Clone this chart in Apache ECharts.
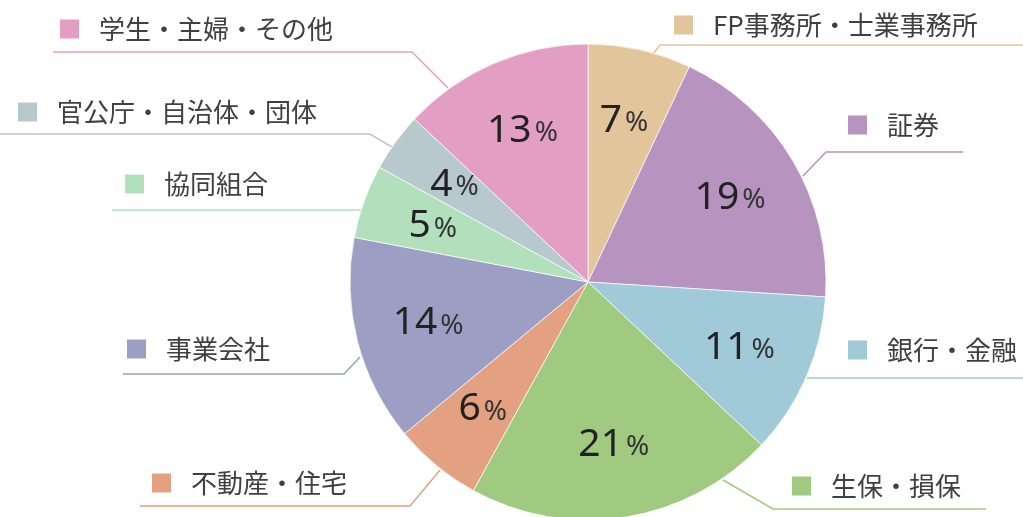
<!DOCTYPE html>
<html>
<head>
<meta charset="utf-8">
<style>
html,body{margin:0;padding:0;background:#fff;}
#main{width:1023px;height:517px;}
</style>
<script src="https://cdn.jsdelivr.net/npm/echarts@6/dist/echarts.min.js"></script>
</head>
<body>
<div id="main"></div>
<script>
// data
var names = ['FP事務所・士業事務所','証券','銀行・金融','生保・損保','不動産・住宅','事業会社','協同組合','官公庁・自治体・団体','学生・主婦・その他'];
var values = [7,19,11,21,6,14,5,4,13];
var colors = ['#e2c59b','#b793bf','#a0cad8','#9fca80','#e4a182','#9c9fc3','#b2e0bd','#b7c9cd','#e39ec4'];

// label positions: [square left x, center y], and leader line points
var labelPos = [[674,25],[848,125],[848,350],[792,486],[152,483],[127,349],[125,184],[18,112],[60,29]];
var linePts = [
  [[653,54],[660,45],[1023,45]],
  [[803,176],[826,152],[963,152]],
  [[807,378],[820,378],[1023,378]],
  [[723,480],[773,509],[986,509]],
  [[440,470],[410,506],[140,506]],
  [[360,357],[344,374],[123,374]],
  [[363,210],[362,210],[112,210]],
  [[392,147],[370,134],[0,134]],
  [[448,88],[412,52],[53,52]]
];

var pieData = [];
var rich = {t:{fontSize:26,color:'#404040',fontFamily:'Noto Sans CJK JP',padding:[0,0,0,20]}};
for(var i=0;i<names.length;i++){
  pieData.push({name:names[i],value:values[i],itemStyle:{color:colors[i]},labelLine:{lineStyle:{color:colors[i]}}});
  rich['sq'+i]={width:19,height:19,backgroundColor:colors[i]};
}

var myChart = echarts.init(document.getElementById('main'));
var option = {
  animation:false,
  series:[
    {
      type:'pie',
      center:[588,282],
      radius:238,
      startAngle:90,
      clockwise:true,
      z:1,
      silent:true,
      itemStyle:{borderColor:'rgba(255,255,255,0.7)',borderWidth:1},
      label:{
        show:true,
        position:'outside',
        formatter:function(p){ return '{sq'+p.dataIndex+'| }{t|'+p.name+'}'; },
        rich:rich
      },
      labelLine:{show:true,length:10,length2:10,lineStyle:{width:1.5}},
      labelLayout:function(p){
        var i=p.dataIndex;
        return {x:labelPos[i][0],y:labelPos[i][1],align:'left',verticalAlign:'middle',labelLinePoints:linePts[i]};
      },
      data:pieData
    },
    {
      type:'pie',
      center:[588,282],
      radius:[86,238],
      startAngle:90,
      clockwise:true,
      z:2,
      silent:true,
      itemStyle:{color:'rgba(0,0,0,0)'},
      label:{
        show:true,
        position:'inside',
        formatter:function(p){ return '{n|'+p.value+'}{p|%}'; },
        rich:{
          n:{fontSize:39,color:'#222',fontFamily:'Noto Sans'},
          p:{fontSize:28,color:'#333',fontFamily:'Noto Sans',padding:[5,0,0,3]}
        }
      },
      labelLine:{show:false},
      data:values.map(function(v,i){return {name:names[i],value:v};})
    }
  ]
};
myChart.setOption(option);
</script>
</body>
</html>
